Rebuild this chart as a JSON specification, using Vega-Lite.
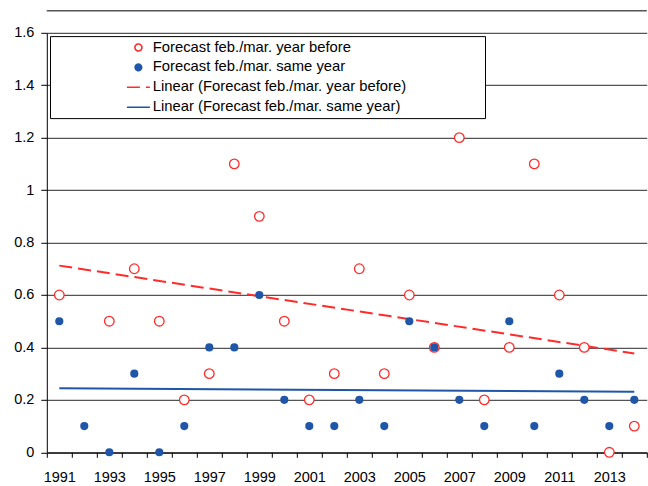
{
  "$schema": "https://vega.github.io/schema/vega-lite/v6.json",
  "autosize": "none",
  "width": 600,
  "height": 419.5,
  "padding": {"left": 46.8, "top": 32.8, "right": 1.2, "bottom": 33.7},
  "background": "white",
  "config": {
    "view": {"stroke": null},
    "font": "Liberation Sans",
    "legend": {
      "title": null,
      "orient": "none",
      "legendX": 3.2,
      "legendY": 3.3,
      "direction": "vertical",
      "columns": 1,
      "fillColor": "white",
      "strokeColor": "black",
      "padding": 4,
      "rowPadding": 3.9,
      "symbolOffset": 77,
      "labelOffset": 7,
      "symbolSize": 100,
      "symbolStrokeWidth": 1.6,
      "labelFont": "Liberation Sans",
      "labelFontSize": 14.8,
      "labelColor": "black",
      "labelLimit": 500
    }
  },
  "datasets": {
    "obs": [
      {"year": 1991, "value": 0.6, "series": "Forecast feb./mar. year before"},
      {"year": 1993, "value": 0.5, "series": "Forecast feb./mar. year before"},
      {"year": 1994, "value": 0.7, "series": "Forecast feb./mar. year before"},
      {"year": 1995, "value": 0.5, "series": "Forecast feb./mar. year before"},
      {"year": 1996, "value": 0.2, "series": "Forecast feb./mar. year before"},
      {"year": 1997, "value": 0.3, "series": "Forecast feb./mar. year before"},
      {"year": 1998, "value": 1.1, "series": "Forecast feb./mar. year before"},
      {"year": 1999, "value": 0.9, "series": "Forecast feb./mar. year before"},
      {"year": 2000, "value": 0.5, "series": "Forecast feb./mar. year before"},
      {"year": 2001, "value": 0.2, "series": "Forecast feb./mar. year before"},
      {"year": 2002, "value": 0.3, "series": "Forecast feb./mar. year before"},
      {"year": 2003, "value": 0.7, "series": "Forecast feb./mar. year before"},
      {"year": 2004, "value": 0.3, "series": "Forecast feb./mar. year before"},
      {"year": 2005, "value": 0.6, "series": "Forecast feb./mar. year before"},
      {"year": 2006, "value": 0.4, "series": "Forecast feb./mar. year before"},
      {"year": 2007, "value": 1.2, "series": "Forecast feb./mar. year before"},
      {"year": 2008, "value": 0.2, "series": "Forecast feb./mar. year before"},
      {"year": 2009, "value": 0.4, "series": "Forecast feb./mar. year before"},
      {"year": 2010, "value": 1.1, "series": "Forecast feb./mar. year before"},
      {"year": 2011, "value": 0.6, "series": "Forecast feb./mar. year before"},
      {"year": 2012, "value": 0.4, "series": "Forecast feb./mar. year before"},
      {"year": 2013, "value": 0.0, "series": "Forecast feb./mar. year before"},
      {"year": 2014, "value": 0.1, "series": "Forecast feb./mar. year before"},
      {"year": 1991, "value": 0.5, "series": "Forecast feb./mar. same year"},
      {"year": 1992, "value": 0.1, "series": "Forecast feb./mar. same year"},
      {"year": 1993, "value": 0.0, "series": "Forecast feb./mar. same year"},
      {"year": 1994, "value": 0.3, "series": "Forecast feb./mar. same year"},
      {"year": 1995, "value": 0.0, "series": "Forecast feb./mar. same year"},
      {"year": 1996, "value": 0.1, "series": "Forecast feb./mar. same year"},
      {"year": 1997, "value": 0.4, "series": "Forecast feb./mar. same year"},
      {"year": 1998, "value": 0.4, "series": "Forecast feb./mar. same year"},
      {"year": 1999, "value": 0.6, "series": "Forecast feb./mar. same year"},
      {"year": 2000, "value": 0.2, "series": "Forecast feb./mar. same year"},
      {"year": 2001, "value": 0.1, "series": "Forecast feb./mar. same year"},
      {"year": 2002, "value": 0.1, "series": "Forecast feb./mar. same year"},
      {"year": 2003, "value": 0.2, "series": "Forecast feb./mar. same year"},
      {"year": 2004, "value": 0.1, "series": "Forecast feb./mar. same year"},
      {"year": 2005, "value": 0.5, "series": "Forecast feb./mar. same year"},
      {"year": 2006, "value": 0.4, "series": "Forecast feb./mar. same year"},
      {"year": 2007, "value": 0.2, "series": "Forecast feb./mar. same year"},
      {"year": 2008, "value": 0.1, "series": "Forecast feb./mar. same year"},
      {"year": 2009, "value": 0.5, "series": "Forecast feb./mar. same year"},
      {"year": 2010, "value": 0.1, "series": "Forecast feb./mar. same year"},
      {"year": 2011, "value": 0.3, "series": "Forecast feb./mar. same year"},
      {"year": 2012, "value": 0.2, "series": "Forecast feb./mar. same year"},
      {"year": 2013, "value": 0.1, "series": "Forecast feb./mar. same year"},
      {"year": 2014, "value": 0.2, "series": "Forecast feb./mar. same year"}
    ],
    "trend": [
      {"year": 1991, "value": 0.712, "series": "Linear (Forecast feb./mar. year before)"},
      {"year": 2014, "value": 0.377, "series": "Linear (Forecast feb./mar. year before)"},
      {"year": 1991, "value": 0.244, "series": "Linear (Forecast feb./mar. same year)"},
      {"year": 2014, "value": 0.231, "series": "Linear (Forecast feb./mar. same year)"}
    ]
  },
  "layer": [
    {
      "data": {"values": [{}]},
      "mark": {"type": "rule", "color": "#555555", "strokeWidth": 1.5},
      "encoding": {
        "y": {"datum": 1.684, "type": "quantitative"}
      }
    },
    {
      "data": {"name": "trend"},
      "transform": [{"filter": "datum.series === 'Linear (Forecast feb./mar. year before)'"}],
      "mark": {"type": "line", "strokeWidth": 2, "strokeDash": [13, 6]},
      "encoding": {
        "x": {
          "field": "year",
          "type": "ordinal",
          "scale": {"type": "band", "paddingInner": 0, "paddingOuter": 0},
          "axis": {
            "title": null,
            "tickBand": "extent",
            "labelAngle": 0,
            "labelExpr": "datum.value % 2 === 1 ? datum.label : ''",
            "labelFont": "Liberation Sans",
            "labelFontSize": 14.5,
            "labelColor": "black",
            "labelPadding": 13,
            "labelOverlap": false,
            "tickSize": 5,
            "tickColor": "black",
            "domainColor": "black",
            "grid": false
          }
        },
        "y": {
          "field": "value",
          "type": "quantitative",
          "scale": {"domain": [0, 1.6], "nice": false},
          "axis": {
            "title": null,
            "values": [0, 0.2, 0.4, 0.6, 0.8, 1, 1.2, 1.4, 1.6],
            "format": ".1~f",
            "grid": true,
            "gridColor": "#2a2a2a",
            "gridOpacity": 1,
            "domainColor": "black",
            "tickColor": "black",
            "tickSize": 6,
            "labelPadding": 7,
            "labelFont": "Liberation Sans",
            "labelFontSize": 14.5,
            "labelColor": "black"
          }
        },
        "color": {
          "field": "series",
          "type": "nominal",
          "scale": {
            "domain": [
              "Forecast feb./mar. year before",
              "Forecast feb./mar. same year",
              "Linear (Forecast feb./mar. year before)",
              "Linear (Forecast feb./mar. same year)"
            ],
            "range": ["#ff2b2b", "#1f56a8", "#ff2b2b", "#1f56a8"]
          },
          "legend": {
            "labelExpr": "datum.label + '\u00a0\u00a0\u00a0\u00a0\u00a0\u00a0\u00a0\u00a0\u00a0\u00a0\u00a0\u00a0\u00a0\u00a0\u00a0\u00a0\u00a0\u00a0\u200b'",
            "encode": {
              "symbols": {
                "update": {
                  "opacity": {"value": 1},
                  "fillOpacity": {"signal": "datum.value === 'Forecast feb./mar. same year' ? 1 : 0"},
                  "shape": [
                    {"test": "indexof(datum.value, 'Linear') === 0", "value": "M-2.3,0H2.3"},
                    {"test": "datum.value === 'Forecast feb./mar. same year'", "value": "M-0.65,0A0.65,0.65 0 1,1 0.65,0A0.65,0.65 0 1,1 -0.65,0Z"},
                    {"value": "M-0.7,0A0.7,0.7 0 1,1 0.7,0A0.7,0.7 0 1,1 -0.7,0Z"}
                  ],
                  "fill": {"signal": "indexof(datum.value, 'same year') >= 0 ? '#1f56a8' : '#ffffff'"},
                  "stroke": {"signal": "indexof(datum.value, 'same year') >= 0 ? '#1f56a8' : '#ff2b2b'"},
                  "strokeDash": [
                    {"test": "datum.value === 'Linear (Forecast feb./mar. year before)'", "value": [13, 6]},
                    {"value": [1, 0]}
                  ]
                }
              }
            }
          }
        }
      }
    },
    {
      "data": {"name": "trend"},
      "transform": [{"filter": "datum.series === 'Linear (Forecast feb./mar. same year)'"}],
      "mark": {"type": "line", "strokeWidth": 2},
      "encoding": {
        "x": {"field": "year", "type": "ordinal"},
        "y": {"field": "value", "type": "quantitative"},
        "color": {"field": "series", "type": "nominal"}
      }
    },
    {
      "data": {"name": "obs"},
      "transform": [{"filter": "datum.series === 'Forecast feb./mar. year before'"}],
      "mark": {"type": "point", "filled": false, "fill": "white", "size": 92, "strokeWidth": 1.3, "opacity": 1},
      "encoding": {
        "x": {"field": "year", "type": "ordinal"},
        "y": {"field": "value", "type": "quantitative"},
        "color": {"field": "series", "type": "nominal"}
      }
    },
    {
      "data": {"name": "obs"},
      "transform": [{"filter": "datum.series === 'Forecast feb./mar. same year'"}],
      "mark": {"type": "point", "filled": true, "size": 66, "opacity": 1},
      "encoding": {
        "x": {"field": "year", "type": "ordinal"},
        "y": {"field": "value", "type": "quantitative"},
        "color": {"field": "series", "type": "nominal"}
      }
    }
  ]
}
